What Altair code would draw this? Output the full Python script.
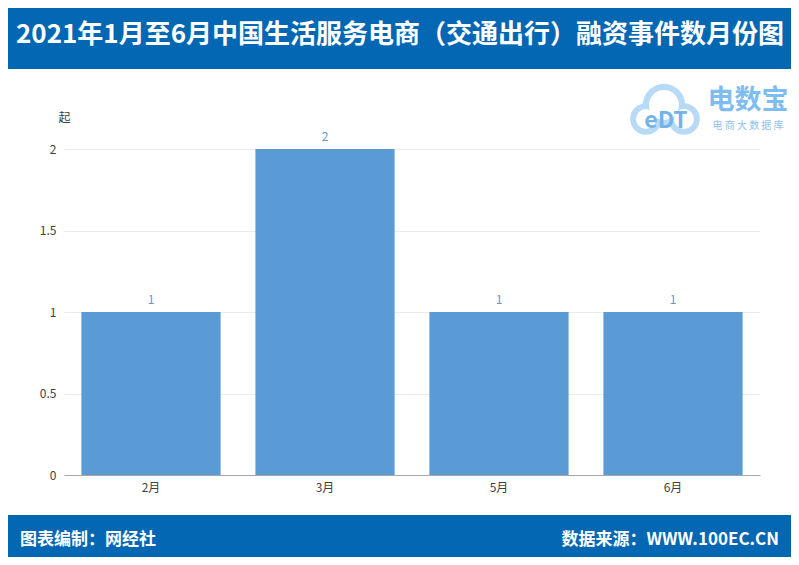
import altair as alt
import pandas as pd

months = ["2月", "3月", "5月", "6月"]
counts = [1, 2, 1, 1]
title_text = "2021年1月至6月中国生活服务电商（交通出行）融资事件数月份图"
footer_left = "图表编制：网经社"
footer_right = "数据来源：WWW.100EC.CN"
unit_label = "起"

df = pd.DataFrame({"month": months, "value": counts})

FONT = "Noto Sans CJK SC"
BLUE = "#0467b4"
BAR = "#5b9bd5"

x_enc = alt.X("month:N", sort=months, title=None,
              scale=alt.Scale(paddingInner=0.2, paddingOuter=0.1),
              axis=alt.Axis(labelAngle=0, ticks=False, domain=True, domainColor="#a6a6a6",
                            labelPadding=7, labelColor="#404040", labelFontSize=12, grid=False))
y_enc = alt.Y("value:Q", title=unit_label, scale=alt.Scale(domain=[0, 2]),
              axis=alt.Axis(values=[0, 0.5, 1, 1.5, 2], format="~g", ticks=False, domain=False,
                            labelPadding=8, labelColor="#404040", labelFontSize=12,
                            gridColor="#ebebeb", titleAngle=0, titleX=0, titleY=-32,
                            titleAlign="center", titleBaseline="middle",
                            titleFontWeight="normal", titleFontSize=12, titleColor="#404040"))

bars = alt.Chart(df).mark_bar(color=BAR).encode(x=x_enc, y=y_enc)
labels = alt.Chart(df).mark_text(dy=-12, color=BAR, fontSize=12, font=FONT).encode(
    x=alt.X("month:N", sort=months), y="value:Q", text="value:Q")

one = alt.Data(values=[{}])

def rect(x, x2, y, y2, color):
    return alt.Chart(one).mark_rect(color=color).encode(
        x=alt.value(x), x2=alt.value(x2), y=alt.value(y), y2=alt.value(y2))

def txt(s, x, y, size, color, weight="normal", align="center"):
    return alt.Chart(one).mark_text(fontSize=size, color=color, fontWeight=weight,
                                    align=align, baseline="middle", font=FONT).encode(
        x=alt.value(x), y=alt.value(y), text=alt.value(s))

def dot(x, y, size, color):
    return alt.Chart(one).mark_point(filled=True, color=color, opacity=1, size=size, shape="circle").encode(
        x=alt.value(x), y=alt.value(y))

# plot coordinates: page x - 64, page y - 149
header = rect(-56, 727, -141, -80, BLUE)
footer = rect(-56, 727, 366, 408, BLUE)
title = txt(title_text, 336, -114, 26, "white", "bold")
fl = txt(footer_left, -44, 391, 17, "white", "bold", "left")
fr = txt(footer_right, 715, 391, 17, "white", "bold", "right")

# logo
LC = "#b7daf7"
cloud = [dot(600, -44, 1800, LC), dot(582, -30, 1000, LC), dot(620, -30, 1000, LC),
         dot(600, -44, 900, "white"), dot(582, -30, 400, "white"), dot(620, -30, 400, "white")]
edt = txt("eDT", 602, -28, 23, "#74b3e8", "bold")
logo1 = txt("电数宝", 684, -48, 27, "#7fbcf0", "bold")
logo2 = txt("电 商 大 数 据 库", 684, -23, 10, "#8cc2f0")

chart = alt.layer(header, footer, title, fl, fr, *cloud, edt, logo1, logo2, bars, labels).properties(
    width=696, height=326,
    padding={"left": 56, "top": 141, "right": 31, "bottom": 82},
    autosize=alt.AutoSizeParams(type="none"),
    background="white",
).configure(font=FONT).configure_view(strokeWidth=0)

chart.save("out.html", embed_options={"renderer": "svg", "actions": False})
